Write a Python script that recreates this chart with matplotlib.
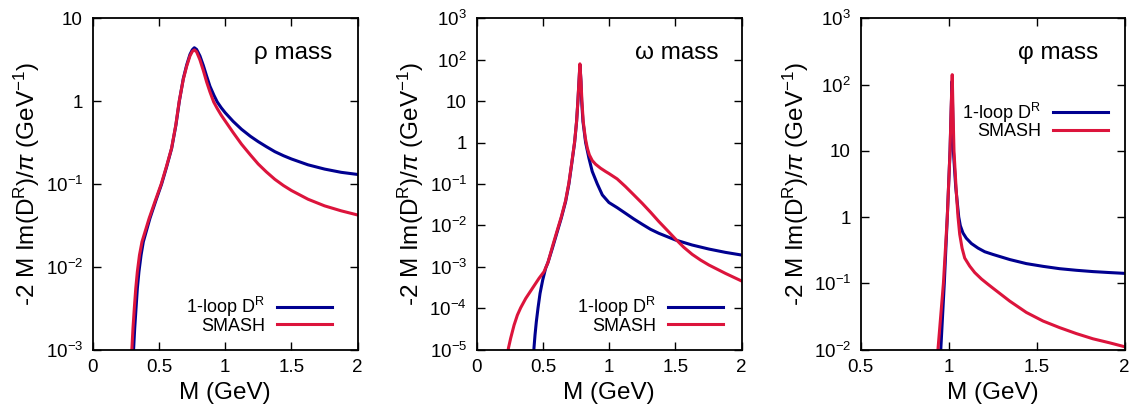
import numpy as np
import matplotlib
matplotlib.use('Agg')
import matplotlib.pyplot as plt
from matplotlib.ticker import FixedLocator, FuncFormatter, NullLocator

plt.rcParams['font.family'] = ['Liberation Sans', 'DejaVu Sans']
plt.rcParams['mathtext.fontset'] = 'custom'
plt.rcParams['mathtext.rm'] = 'Liberation Sans'
plt.rcParams['mathtext.it'] = 'Liberation Sans:italic'
plt.rcParams['mathtext.bf'] = 'Liberation Sans:bold'
plt.rcParams['mathtext.sf'] = 'Liberation Sans'

# ---------------- data ----------------
rho_loop_M = [0.300, 0.309, 0.317, 0.327, 0.337, 0.349, 0.365, 0.382, 0.407, 0.432, 0.478, 0.520,
              0.558, 0.596, 0.628, 0.654, 0.684, 0.709, 0.734, 0.752, 0.767, 0.784, 0.809, 0.835,
              0.860, 0.885, 0.915, 0.940, 0.970, 1.000, 1.060, 1.123, 1.190, 1.249, 1.310, 1.375,
              1.440, 1.500, 1.625, 1.750, 1.875, 2.000]
rho_loop_y = [7.9e-4, 1.03e-3, 1.80e-3, 3.14e-3, 5.47e-3, 8.7e-3, 1.38e-2, 2.00e-2, 2.77e-2, 3.84e-2,
              6.38e-2, 0.0995, 0.161, 0.269, 0.513, 1.0, 1.88, 2.72, 3.66, 4.17, 4.41, 4.21, 3.52,
              2.69, 2.00, 1.51, 1.175, 0.977, 0.832, 0.724, 0.569, 0.457, 0.376, 0.324, 0.282,
              0.245, 0.219, 0.200, 0.170, 0.151, 0.138, 0.130]
rho_smash_M = [0.290, 0.296, 0.304, 0.314, 0.325, 0.337, 0.353, 0.372, 0.399, 0.426, 0.474, 0.517,
               0.556, 0.595, 0.627, 0.653, 0.684, 0.709, 0.734, 0.752, 0.767, 0.784, 0.809, 0.835,
               0.860, 0.885, 0.913, 0.940, 0.970, 1.000, 1.060, 1.123, 1.190, 1.249, 1.310, 1.375,
               1.440, 1.500, 1.625, 1.750, 1.875, 2.000]
rho_smash_y = [7.9e-4, 1.03e-3, 1.80e-3, 3.14e-3, 5.47e-3, 8.7e-3, 1.38e-2, 2.00e-2, 2.77e-2, 3.84e-2,
               6.38e-2, 0.0995, 0.161, 0.269, 0.513, 1.0, 1.84, 2.63, 3.51, 3.98, 4.15, 3.94, 3.16,
               2.34, 1.70, 1.29, 0.977, 0.813, 0.676, 0.575, 0.417, 0.302, 0.224, 0.174, 0.140,
               0.1135, 0.0955, 0.0832, 0.0653, 0.0543, 0.0473, 0.0421]

omega_loop_M = [0.430, 0.432, 0.440, 0.450, 0.463, 0.478, 0.498, 0.520, 0.538, 0.571, 0.608, 0.638,
                0.671, 0.696, 0.716, 0.739, 0.754, 0.764, 0.772, 0.779, 0.787, 0.792, 0.802, 0.822,
                0.847, 0.872, 0.910, 0.948, 0.998, 1.060, 1.123, 1.186, 1.249, 1.312, 1.375, 1.500,
                1.626, 1.752, 1.877, 2.000]
omega_loop_y = [6.3e-6, 1.06e-5, 2.22e-5, 4.67e-5, 1.02e-4, 2.26e-4, 4.75e-4, 9.1e-4, 1.27e-3, 2.78e-3,
                7.03e-3, 1.48e-2, 3.74e-2, 0.100, 0.288, 1.0, 3.22, 10.2, 29.9, 75.7, 29.9, 10.2,
                3.22, 1.0, 0.418, 0.200, 0.100, 0.0542, 0.0355, 0.0267, 0.0195, 0.0142, 0.0106,
                8.0e-3, 6.4e-3, 4.42e-3, 3.34e-3, 2.67e-3, 2.22e-3, 1.91e-3]
omega_smash_M = [0.235, 0.239, 0.256, 0.282, 0.307, 0.332, 0.370, 0.420, 0.470, 0.508, 0.538, 0.571,
                 0.608, 0.638, 0.671, 0.696, 0.716, 0.739, 0.754, 0.764, 0.772, 0.779, 0.787, 0.794,
                 0.804, 0.820, 0.835, 0.850, 0.872, 0.897, 0.935, 0.973, 0.998, 1.060, 1.123, 1.186,
                 1.249, 1.312, 1.375, 1.438, 1.500, 1.563, 1.626, 1.689, 1.752, 1.877, 2.000]
omega_smash_y = [6.3e-6, 1.06e-5, 1.85e-5, 3.88e-5, 6.78e-5, 1.02e-4, 1.71e-4, 2.99e-4, 5.22e-4, 7.57e-4,
                 1.27e-3, 3.02e-3, 7.59e-3, 1.58e-2, 3.98e-2, 0.107, 0.302, 1.05, 3.31, 10.5, 30.9,
                 79.4, 30.9, 10.2, 3.22, 1.27, 0.729, 0.504, 0.367, 0.299, 0.239, 0.199, 0.178,
                 0.132, 0.0861, 0.0542, 0.0340, 0.0207, 0.0123, 7.57e-3, 4.67e-3, 2.94e-3, 1.99e-3,
                 1.45e-3, 1.10e-3, 6.90e-4, 4.50e-4]

phi_loop_M = [0.950, 0.955, 0.975, 0.992, 1.0076, 1.014, 1.019, 1.0235, 1.0265, 1.040, 1.057, 1.066,
              1.081, 1.100, 1.129, 1.167, 1.205, 1.252, 1.347, 1.441, 1.536, 1.630, 1.725, 1.820,
              1.915, 2.000]
phi_loop_y = [6.3e-3, 1.0e-2, 0.10, 1.0, 10, 40, 112, 30, 10, 2.82, 1.0, 0.741,
              0.575, 0.479, 0.398, 0.339, 0.299, 0.272, 0.228, 0.198, 0.180, 0.166, 0.157, 0.150,
              0.145, 0.141]
phi_smash_M = [0.932, 0.939, 0.970, 0.992, 1.0076, 1.014, 1.020, 1.025, 1.030, 1.042, 1.053, 1.0625,
               1.076, 1.091, 1.119, 1.148, 1.186, 1.223, 1.252, 1.347, 1.441, 1.536, 1.630, 1.725,
               1.820, 1.915, 2.000]
phi_smash_y = [6.3e-3, 1.0e-2, 0.10, 1.0, 10, 45, 141, 35, 10, 2.7, 1.0, 0.55,
               0.339, 0.240, 0.182, 0.145, 0.116, 0.0966, 0.0841, 0.0537, 0.0363, 0.0269, 0.0214,
               0.0174, 0.0145, 0.0126, 0.0110]

panel_titles = ['ρ mass', 'ω mass', 'φ mass']
x_ranges = [(0, 2), (0, 2), (0.5, 2)]
x_ticks = [[0, 0.5, 1, 1.5, 2], [0, 0.5, 1, 1.5, 2], [0.5, 1, 1.5, 2]]
y_exps = [list(range(-3, 2)), list(range(-5, 4)), list(range(-2, 4))]
series_labels = ['1-loop D$^{\\rm R}$', 'SMASH']

BLUE = '#000090'
RED = '#dc143c'

fig = plt.figure(figsize=(11.31, 4.12), dpi=100)
lefts = [92.7, 476.7, 860.7]
widths = [265.0, 265.0, 264.0]
bottom_px, top_px = 349.5, 18.3
H = 412.0
W = 1131.0

data = [(rho_loop_M, rho_loop_y, rho_smash_M, rho_smash_y),
        (omega_loop_M, omega_loop_y, omega_smash_M, omega_smash_y),
        (phi_loop_M, phi_loop_y, phi_smash_M, phi_smash_y)]

legend_anchor = [('lower right', (0.903, 0.045)), ('lower right', (0.929, 0.045)),
                 ('upper right', (0.937, 0.752))]
title_x = [0.904, 0.911, 0.899]


def yfmt(v, pos):
    e = int(round(np.log10(v)))
    if e == 0:
        return '1'
    if e == 1:
        return '10'
    return r'$10^{%d}$' % e


for i in range(3):
    ax = fig.add_axes([lefts[i] / W, (H - bottom_px) / H, widths[i] / W, (bottom_px - top_px) / H])
    lm, ly, sm, sy = data[i]
    l1, = ax.plot(lm, ly, color=BLUE, lw=2.2, solid_joinstyle='round')
    l2, = ax.plot(sm, sy, color=RED, lw=2.2, solid_joinstyle='round')
    ax.set_yscale('log')
    ax.set_xlim(*x_ranges[i])
    ax.set_ylim(10.0 ** y_exps[i][0], 10.0 ** y_exps[i][-1])
    ax.xaxis.set_major_locator(FixedLocator(x_ticks[i]))
    ax.xaxis.set_major_formatter(FuncFormatter(lambda v, p: '%g' % v))
    ax.yaxis.set_major_locator(FixedLocator([10.0 ** e for e in y_exps[i]]))
    ax.yaxis.set_major_formatter(FuncFormatter(yfmt))
    ax.yaxis.set_minor_locator(NullLocator())
    ax.xaxis.set_minor_locator(NullLocator())
    ax.tick_params(which='major', direction='in', top=True, right=True, length=5.5, width=1.0,
                   labelsize=13.5)
    ax.tick_params(axis='x', pad=7)
    ax.tick_params(axis='y', pad=7)
    for s in ax.spines.values():
        s.set_linewidth(1.3)
    ax.set_xlabel('M (GeV)', fontsize=17.5)
    ax.xaxis.set_label_coords(0.5, -0.098)
    ax.set_ylabel(r'-2 M Im(D$^{\rm R}$)/$\pi$ (GeV$^{-1}$)', fontsize=17.5)
    ax.yaxis.set_label_coords(-0.19, 0.5)
    ax.text(title_x[i], 0.896, panel_titles[i], transform=ax.transAxes, ha='right', va='center',
            fontsize=17.5)
    loc, anc = legend_anchor[i]
    ax.legend([l1, l2], series_labels, loc=loc, bbox_to_anchor=anc, markerfirst=False,
              frameon=False, fontsize=13, handlelength=3.05, handletextpad=0.66,
              labelspacing=-0.08, borderpad=0.0, borderaxespad=0.0)

fig.savefig('out.png', dpi=100)
